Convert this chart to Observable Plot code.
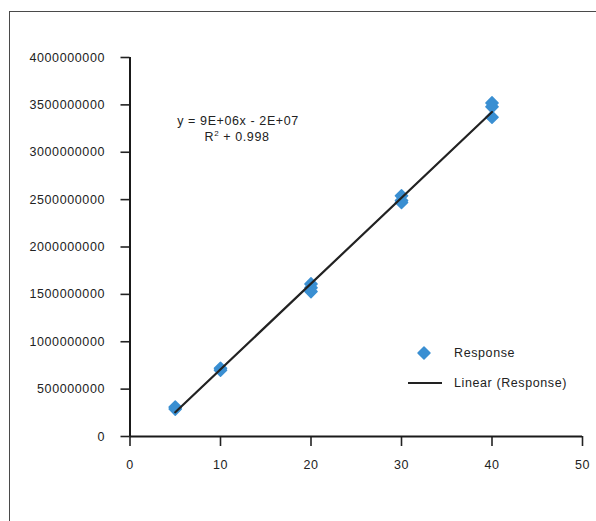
<!DOCTYPE html>
<html>
<head>
<meta charset="utf-8">
<script src="https://cdn.jsdelivr.net/npm/d3@7"></script>
<script src="https://cdn.jsdelivr.net/npm/@observablehq/plot@0.6"></script>
<style>
  html, body { margin: 0; padding: 0; background: #fff; }
  #wrap { position: relative; width: 596px; height: 521px; overflow: hidden; font-family: "Liberation Sans", Arial, Helvetica, sans-serif; color: #222; }
  #frame { position: absolute; left: 9px; top: 10.5px; width: 800px; height: 800px; border-left: 1.5px solid #4a4a4a; border-top: 1.5px solid #4a4a4a; }
  #chart { position: absolute; left: 0; top: 0; }
  .ann { position: absolute; font-size: 12.5px; letter-spacing: 0.6px; white-space: nowrap; line-height: 1; }
  .eq { transform: translateX(-50%); text-align: center; }
  sup { font-size: 8px; vertical-align: 5px; line-height: 0; }
</style>
</head>
<body>
<div id="wrap">
  <div id="frame"></div>
  <div id="chart"></div>
  <div class="ann eq" style="left:238px; top:115px;">y = 9E+06x - 2E+07</div>
  <div class="ann eq" style="left:237px; top:131px;">R<sup>2</sup> + 0.998</div>
  <svg class="ann" style="left:416px; top:345px;" width="16" height="16"><path d="M8 2 L14 8 L8 14 L2 8 Z" fill="#3a8fd2" stroke="#3a8fd2" stroke-width="1.5" stroke-linejoin="round"/></svg>
  <div class="ann" style="left:454px; top:347px;">Response</div>
  <svg class="ann" style="left:407px; top:381px;" width="36" height="4"><line x1="1" y1="2" x2="35" y2="2" stroke="#222" stroke-width="2.2"/></svg>
  <div class="ann" style="left:454px; top:377px;">Linear (Response)</div>
</div>
<script>
const concentration = [5, 5, 10, 10, 20, 20, 20, 30, 30, 30, 40, 40, 40];
const response = [3.1e8, 2.9e8, 7.2e8, 7.0e8, 1.61e9, 1.57e9, 1.53e9, 2.54e9, 2.49e9, 2.47e9, 3.52e9, 3.48e9, 3.37e9];
const xTicks = [0, 10, 20, 30, 40, 50];
const yTicks = [0, 5e8, 1e9, 1.5e9, 2e9, 2.5e9, 3e9, 3.5e9, 4e9];

const data = concentration.map((x, i) => ({x, y: response[i]}));

const chart = Plot.plot({
  width: 596,
  height: 521,
  marginLeft: 129.5,
  marginRight: 14,
  marginTop: 57,
  marginBottom: 85,
  style: {fontFamily: '"Liberation Sans", Arial, Helvetica, sans-serif', fontSize: "12.5px", letterSpacing: "0.6px", color: "#222", background: "transparent"},
  x: {domain: [0, 50]},
  y: {domain: [0, 4e9]},
  marks: [
    Plot.axisY({ticks: yTicks, tickSize: 9, tickPadding: 16, tickFormat: d => d3.format("d")(d), stroke: "#222", strokeWidth: 1.6, label: null}),
    Plot.axisX({ticks: xTicks, tickSize: 10, tickPadding: 14, tickFormat: d => String(d), stroke: "#222", strokeWidth: 1.6, label: null}),
    Plot.ruleX([0], {stroke: "#1a1a1a", strokeWidth: 2}),
    Plot.ruleY([0], {stroke: "#1a1a1a", strokeWidth: 2}),
    Plot.dot(data, {x: "x", y: "y", symbol: "diamond2", r: 5.5, fill: "#3a8fd2", stroke: "#3a8fd2", strokeWidth: 1.5, strokeLinejoin: "round"}),
    Plot.linearRegressionY(data, {x: "x", y: "y", stroke: "#222", strokeWidth: 2.2, ci: 0})
  ]
});
document.getElementById("chart").appendChild(chart);
</script>
</body>
</html>
